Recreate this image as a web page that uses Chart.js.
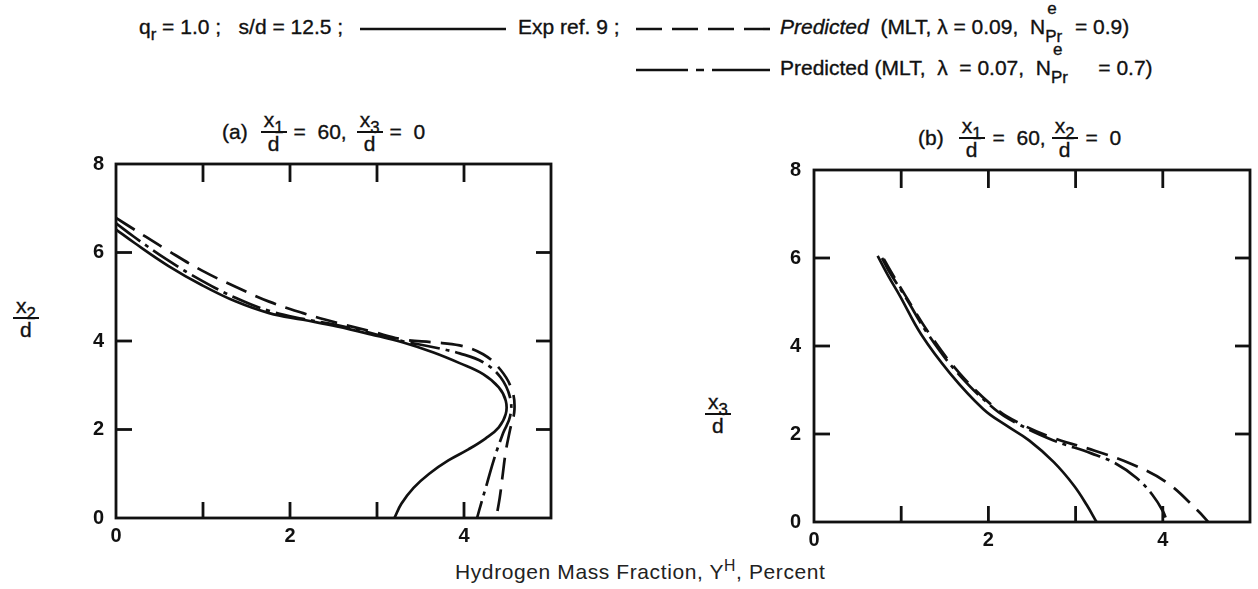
<!DOCTYPE html>
<html>
<head>
<meta charset="utf-8">
<script src="https://cdn.jsdelivr.net/npm/chart.js@4.4.1/dist/chart.umd.min.js"></script>
<style>
  html, body { margin: 0; padding: 0; background: #fff; }
  body { width: 1258px; height: 589px; position: relative; overflow: hidden;
         font-family: "Liberation Sans", Arial, sans-serif; color: #111; }
  .abs { position: absolute; white-space: nowrap; }
  .txt { font-size: 21px; line-height: 24px; -webkit-text-stroke: 0.35px #111; }
  sub { font-size: 0.8em; vertical-align: -0.35em; line-height: 0; }
  .row { display: flex; align-items: center; }
  .frac { display: flex; flex-direction: column; align-items: center; line-height: 20px; }
  .frac .n { border-bottom: 2px solid #111; padding: 0 3px 1px; }
  .frac .d { padding-top: 1px; }
  .ns { display: inline-block; position: relative; width: 24px; height: 0; }
  .ns .e { position: absolute; left: 2px; top: -34px; font-size: 17px; line-height: 17px; }
  .ns .p { position: absolute; left: 0; top: -6px; font-size: 17px; line-height: 17px; }
  canvas { position: absolute; }
</style>
</head>
<body>

<!-- heading / legend -->
<div class="abs txt" style="left:139px;top:15px">q<sub>r</sub> = 1.0 ;&nbsp;&nbsp; s/d = 12.5 ;</div>
<svg class="abs" style="left:360px;top:26px" width="146" height="6"><line x1="0" y1="3" x2="146" y2="3" stroke="#111" stroke-width="2.6"/></svg>
<div class="abs txt" style="left:518px;top:15px">Exp ref. 9 ;</div>
<svg class="abs" style="left:636px;top:26px" width="134" height="6"><line x1="0" y1="3" x2="134" y2="3" stroke="#111" stroke-width="2.6" stroke-dasharray="26 10"/></svg>
<div class="abs txt" style="left:780px;top:15px"><i>Predicted</i>&nbsp; (MLT, λ = 0.09,&nbsp; N<span class="ns"><span class="e">e</span><span class="p">Pr</span></span>&nbsp;= 0.9)</div>

<svg class="abs" style="left:636px;top:67px" width="134" height="6"><line x1="0" y1="3" x2="134" y2="3" stroke="#111" stroke-width="2.6" stroke-dasharray="52 8 8 8 58"/></svg>
<div class="abs txt" style="left:780px;top:56px">Predicted (MLT,&nbsp; λ &nbsp;= 0.07,&nbsp; N<span class="ns"><span class="e">e</span><span class="p">Pr</span></span>&nbsp;&nbsp;&nbsp; = 0.7)</div>

<!-- panel titles -->
<div class="abs txt row" style="left:222px;top:110px">
  <span>(a)</span>
  <span class="frac" style="margin-left:13px"><span class="n">x<sub>1</sub></span><span class="d">d</span></span>
  <span style="margin-left:7px">= &nbsp;60,</span>
  <span class="frac" style="margin-left:10px"><span class="n">x<sub>3</sub></span><span class="d">d</span></span>
  <span style="margin-left:7px">= &nbsp;0</span>
</div>
<div class="abs txt row" style="left:918px;top:116px">
  <span>(b)</span>
  <span class="frac" style="margin-left:15px"><span class="n">x<sub>1</sub></span><span class="d">d</span></span>
  <span style="margin-left:8px">= &nbsp;60,</span>
  <span class="frac" style="margin-left:6px"><span class="n">x<sub>2</sub></span><span class="d">d</span></span>
  <span style="margin-left:8px">= &nbsp;0</span>
</div>

<!-- y axis titles -->
<div class="abs txt row" style="left:13px;top:296px"><span class="frac"><span class="n">x<sub>2</sub></span><span class="d">d</span></span></div>
<div class="abs txt row" style="left:705px;top:392px"><span class="frac"><span class="n">x<sub>3</sub></span><span class="d">d</span></span></div>

<!-- x axis title -->
<div class="abs" style="left:455px;top:557px;font-size:21px;color:#222;letter-spacing:0.6px">Hydrogen Mass Fraction, Y<sup style="font-size:0.75em">H</sup>, Percent</div>

<canvas id="ca" width="515" height="420" style="left:50px;top:140px"></canvas>
<canvas id="cb" width="510" height="420" style="left:748px;top:145px"></canvas>

<script>
// ---------- axis ticks ----------
const xTickValues = [0, 1, 2, 3, 4, 5];   // labels shown: 0, 2, 4
const yTickValues = [0, 2, 4, 6, 8];

// ---------- Panel (a): x1/d = 60, x3/d = 0  (x = Y^H %, y = x2/d) ----------
const a_exp_x = [0, 0.21, 0.6, 0.99, 1.38, 1.76, 2.15, 2.54, 2.93, 3.31, 3.65, 3.95, 4.22, 4.4, 4.48, 4.48, 4.4, 4.25, 4.05, 3.82, 3.6, 3.42, 3.28, 3.2];
const a_exp_y = [6.52, 6.22, 5.7, 5.26, 4.89, 4.63, 4.48, 4.33, 4.15, 3.96, 3.74, 3.5, 3.25, 2.95, 2.65, 2.35, 2.05, 1.8, 1.55, 1.3, 1.0, 0.68, 0.32, 0];

const a_p09_x = [0, 0.21, 0.6, 0.99, 1.38, 1.76, 2.15, 2.54, 2.93, 3.31, 3.65, 3.95, 4.22, 4.42, 4.55, 4.58, 4.53, 4.48, 4.44, 4.41, 4.37];
const a_p09_y = [6.78, 6.52, 6.04, 5.59, 5.22, 4.89, 4.63, 4.41, 4.22, 4.03, 3.97, 3.9, 3.7, 3.35, 2.9, 2.45, 2.0, 1.5, 0.9, 0.45, 0];

const a_p07_x = [0, 0.21, 0.6, 0.99, 1.38, 1.76, 2.15, 2.54, 2.93, 3.31, 3.65, 3.95, 4.22, 4.42, 4.53, 4.53, 4.45, 4.35, 4.26, 4.2, 4.15];
const a_p07_y = [6.66, 6.35, 5.82, 5.36, 4.97, 4.68, 4.5, 4.36, 4.18, 3.99, 3.86, 3.72, 3.52, 3.18, 2.72, 2.3, 1.92, 1.36, 0.75, 0.35, 0];

// ---------- Panel (b): x1/d = 60, x2/d = 0  (x = Y^H %, y = x3/d) ----------
const b_exp_x = [0.73, 0.85, 0.985, 1.23, 1.56, 1.94, 2.2, 2.47, 2.75, 2.98, 3.13, 3.24];
const b_exp_y = [6.05, 5.6, 5.14, 4.26, 3.38, 2.57, 2.2, 1.85, 1.36, 0.83, 0.38, 0];

const b_p09_x = [0.8, 0.88, 1.05, 1.33, 1.67, 2.09, 2.35, 2.76, 3.22, 3.64, 4.05, 4.4, 4.52];
const b_p09_y = [5.98, 5.7, 5.14, 4.26, 3.38, 2.57, 2.25, 1.9, 1.62, 1.32, 0.89, 0.26, 0];

const b_p07_x = [0.78, 0.86, 1.04, 1.31, 1.65, 2.07, 2.33, 2.74, 3.18, 3.45, 3.7, 3.88, 4.0, 4.05];
const b_p07_y = [6.0, 5.7, 5.14, 4.26, 3.38, 2.57, 2.24, 1.86, 1.56, 1.34, 1.0, 0.62, 0.25, 0];

// ---------- helpers ----------
const INK = '#111';
const pts = (xs, ys) => xs.map((x, i) => ({ x: x, y: ys[i] }));

function series(xs, ys, dash) {
  return { data: pts(xs, ys), showLine: true, borderColor: INK, borderWidth: 2.7,
           borderDash: dash, pointRadius: 0, tension: 0.4, fill: false,
           borderCapStyle: 'butt' };
}

// frame + inward tick marks on all four sides (positions from the library scales)
const framePlugin = {
  id: 'frame',
  afterDatasetsDraw(chart) {
    const { ctx, chartArea: a, scales } = chart;
    const sx = scales.x, sy = scales.y;
    ctx.save();
    ctx.strokeStyle = INK;
    ctx.lineWidth = 2.8;
    ctx.setLineDash([]);
    ctx.strokeRect(a.left, a.top, a.right - a.left, a.bottom - a.top);
    const seg = (x1, y1, x2, y2) => { ctx.beginPath(); ctx.moveTo(x1, y1); ctx.lineTo(x2, y2); ctx.stroke(); };
    sx.ticks.forEach(t => {
      if (t.value <= sx.min || t.value >= sx.max) return;
      const p = sx.getPixelForValue(t.value);
      seg(p, a.bottom, p, a.bottom - 16);
      seg(p, a.top, p, a.top + 18);
    });
    sy.ticks.forEach(t => {
      if (t.value <= sy.min || t.value >= sy.max) return;
      const p = sy.getPixelForValue(t.value);
      seg(a.left, p, a.left + 16, p);
      seg(a.right, p, a.right - 15, p);
    });
    ctx.restore();
  }
};

function makePanel(canvasId, datasets, pad, yWidth, yPad) {
  const font = { family: '"Liberation Sans", Arial, sans-serif', size: 20, weight: 'bold' };
  return new Chart(document.getElementById(canvasId), {
    type: 'scatter',
    data: { datasets: datasets },
    options: {
      responsive: false, maintainAspectRatio: false, animation: false,
      layout: { padding: pad },
      plugins: { legend: { display: false }, tooltip: { enabled: false } },
      scales: {
        x: {
          type: 'linear', min: 0, max: 5,
          afterBuildTicks: s => { s.ticks = xTickValues.map(v => ({ value: v })); },
          ticks: { font: font, color: INK, padding: 6, maxRotation: 0, autoSkip: false,
                   callback: v => (v % 2 === 0 ? String(v) : '') },
          grid: { display: false, drawTicks: false },
          border: { display: false },
          afterFit: s => { s.height = 32; }
        },
        y: {
          type: 'linear', min: 0, max: 8,
          afterBuildTicks: s => { s.ticks = yTickValues.map(v => ({ value: v })); },
          ticks: { font: font, color: INK, padding: yPad, autoSkip: false },
          grid: { display: false, drawTicks: false },
          border: { display: false },
          afterFit: s => { s.width = yWidth; }
        }
      }
    },
    plugins: [framePlugin]
  });
}

makePanel('ca', [
  series(a_exp_x, a_exp_y, []),
  series(a_p09_x, a_p09_y, [22, 10]),
  series(a_p07_x, a_p07_y, [30, 6, 4, 6])
], { left: 0, right: 14, top: 15, bottom: 10 }, 66, 12);

makePanel('cb', [
  series(b_exp_x, b_exp_y, []),
  series(b_p09_x, b_p09_y, [22, 10]),
  series(b_p07_x, b_p07_y, [30, 6, 4, 6])
], { left: 0, right: 8, top: 15, bottom: 11 }, 66, 13);
</script>
</body>
</html>
